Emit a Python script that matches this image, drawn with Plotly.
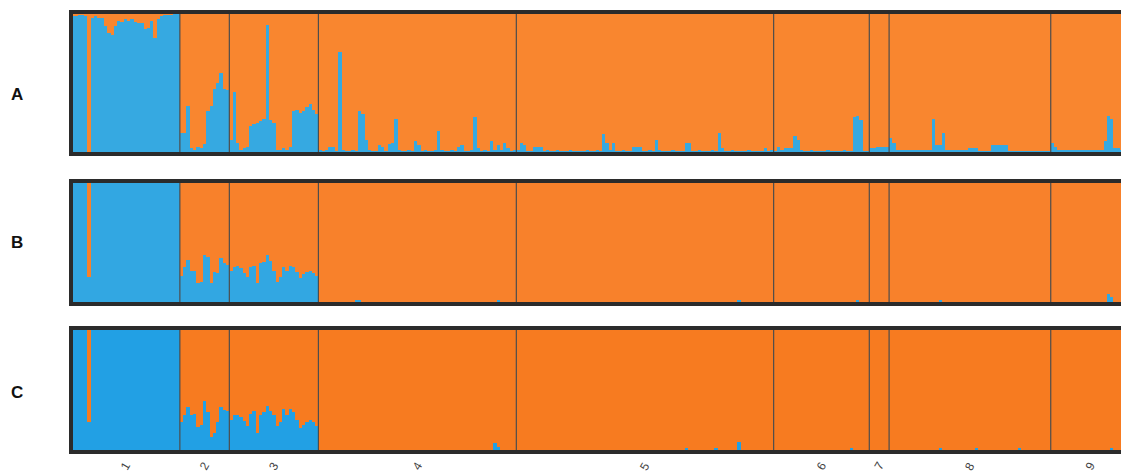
import plotly.graph_objects as go

# ---------------- data ----------------
GROUP_LABELS = ["1", "2", "3", "4", "5", "6", "7", "8", "9"]
GROUP_SIZES = [33, 15, 27, 60, 78, 29, 6, 49, 24]
PANEL_LABELS = ["A", "B", "C"]

# Blue-cluster membership (%) per individual, orange = 100 - blue
A_BLUE = [
    # group 1
    97, 97, 98, 98, 97, 0, 96, 97, 96, 96, 90, 85, 84, 90, 94, 93, 95, 94, 95, 93,
    92, 92, 88, 89, 94, 82, 95, 97, 98, 98, 98, 99, 99,
    # group 2
    15, 15, 34, 4, 3, 5, 4, 7, 30, 34, 46, 50, 57, 46, 45,
    # group 3
    10, 44, 8, 3, 4, 5, 20, 21, 22, 23, 25, 91, 24, 22, 3, 3, 4, 3, 5, 30,
    31, 29, 30, 33, 35, 31, 28,
    # group 4
    3, 2, 3, 5, 5, 2, 72, 3, 2, 2, 3, 2, 30, 28, 10, 3, 2, 2, 6, 5,
    2, 7, 8, 25, 3, 2, 2, 3, 2, 9, 6, 2, 3, 2, 2, 3, 16, 3, 2, 2,
    3, 2, 5, 6, 2, 2, 3, 26, 4, 2, 3, 2, 9, 3, 6, 3, 8, 4, 2, 3,
    # group 5
    3, 8, 6, 2, 2, 5, 5, 5, 2, 3, 2, 2, 3, 2, 2, 2, 3, 2, 2, 2,
    2, 3, 2, 2, 3, 2, 14, 8, 3, 8, 2, 2, 3, 2, 2, 5, 5, 5, 2, 2,
    3, 2, 10, 3, 2, 2, 2, 3, 2, 2, 2, 8, 8, 2, 2, 3, 2, 2, 2, 3,
    2, 15, 4, 2, 2, 3, 2, 2, 2, 2, 3, 2, 2, 2, 2, 4, 2, 3,
    # group 6
    2, 5, 3, 4, 4, 4, 13, 10, 3, 2, 2, 3, 2, 2, 2, 2, 3, 2, 2, 2,
    2, 3, 2, 2, 26, 27, 24, 2, 2,
    # group 7
    4, 4, 5, 5, 5, 5,
    # group 8
    11, 8, 3, 3, 3, 3, 3, 3, 3, 3, 3, 3, 3, 25, 6, 6, 15, 3, 3, 3,
    3, 3, 3, 3, 4, 4, 4, 2, 2, 2, 2, 6, 6, 6, 6, 6, 2, 2, 2, 2,
    2, 2, 2, 2, 2, 2, 2, 2, 2,
    # group 9
    8, 5, 3, 3, 3, 3, 3, 3, 3, 3, 3, 3, 3, 3, 3, 3, 9, 27, 25, 4,
    4, 3, 3, 3,
]

B_BLUE = [
    # group 1
    100, 100, 100, 99, 100, 22, 100, 100, 100, 99, 100, 100, 100, 100, 99, 100, 100, 100, 100, 100,
    100, 100, 100, 98, 100, 100, 100, 100, 99, 100, 100, 100, 100,
    # group 2
    23, 30, 36, 27, 27, 17, 18, 40, 38, 17, 26, 25, 37, 33, 32,
    # group 3
    27, 30, 31, 29, 25, 22, 30, 31, 17, 33, 34, 40, 35, 27, 18, 22, 30, 27, 31, 30,
    26, 21, 24, 26, 27, 25, 23,
    # group 4
    1, 1, 1, 1, 1, 1, 1, 1, 1, 1, 1, 3, 3, 2, 2, 1, 1, 1, 1, 1,
    1, 1, 1, 1, 1, 1, 1, 1, 1, 1, 1, 1, 1, 1, 1, 1, 1, 1, 1, 1,
    1, 1, 2, 2, 1, 1, 1, 1, 1, 1, 1, 1, 1, 1, 3, 1, 1, 1, 1, 1,
    # group 5
    1, 1, 1, 1, 1, 1, 1, 1, 1, 1, 1, 1, 1, 1, 1, 1, 1, 1, 1, 1,
    1, 1, 1, 1, 1, 1, 1, 1, 1, 1, 1, 1, 1, 1, 1, 1, 1, 1, 1, 1,
    1, 1, 1, 2, 1, 1, 1, 1, 1, 1, 1, 2, 1, 1, 1, 1, 1, 1, 1, 1,
    1, 1, 1, 1, 1, 1, 1, 3, 1, 1, 1, 1, 1, 1, 1, 1, 1, 1,
    # group 6
    1, 1, 1, 1, 1, 1, 1, 1, 1, 1, 1, 1, 1, 1, 1, 1, 1, 1, 1, 1,
    1, 1, 1, 1, 1, 3, 1, 1, 1,
    # group 7
    1, 1, 1, 1, 1, 1,
    # group 8
    1, 1, 1, 1, 1, 1, 1, 1, 1, 1, 1, 1, 1, 1, 1, 3, 1, 1, 1, 1,
    1, 1, 1, 1, 1, 1, 1, 2, 1, 1, 1, 1, 1, 1, 1, 1, 1, 1, 1, 1,
    1, 1, 1, 1, 1, 1, 1, 1, 1,
    # group 9
    1, 1, 1, 1, 1, 1, 1, 1, 1, 1, 1, 1, 1, 1, 1, 1, 1, 8, 6, 1,
    1, 1, 1, 1,
]

C_BLUE = [
    # group 1
    100, 100, 100, 99, 100, 24, 100, 100, 100, 99, 100, 100, 100, 100, 99, 100, 100, 100, 100, 100,
    100, 100, 100, 98, 100, 100, 100, 100, 99, 100, 100, 100, 100,
    # group 2
    24, 30, 36, 30, 31, 20, 22, 41, 32, 12, 15, 24, 36, 34, 33,
    # group 3
    26, 30, 30, 28, 25, 21, 31, 33, 15, 30, 32, 37, 33, 30, 21, 24, 35, 30, 35, 32,
    26, 19, 22, 24, 26, 24, 21,
    # group 4
    1, 1, 1, 1, 1, 1, 1, 1, 1, 1, 1, 1, 1, 1, 1, 1, 1, 2, 2, 2,
    2, 2, 2, 1, 1, 1, 1, 1, 1, 1, 1, 1, 1, 1, 1, 1, 1, 1, 1, 1,
    1, 1, 1, 1, 1, 1, 1, 1, 1, 1, 1, 1, 1, 7, 4, 1, 1, 1, 1, 1,
    # group 5
    1, 1, 1, 1, 1, 1, 1, 1, 1, 1, 1, 1, 1, 1, 1, 1, 1, 1, 1, 2,
    1, 1, 1, 1, 1, 1, 1, 1, 1, 1, 1, 1, 1, 1, 1, 1, 1, 1, 1, 1,
    1, 1, 2, 1, 1, 1, 1, 1, 1, 1, 1, 3, 1, 1, 1, 1, 1, 1, 1, 1,
    3, 1, 1, 1, 1, 1, 1, 8, 1, 1, 1, 1, 1, 1, 1, 1, 1, 1,
    # group 6
    1, 1, 1, 1, 1, 1, 1, 1, 1, 1, 1, 1, 1, 1, 1, 1, 1, 1, 1, 1,
    1, 1, 1, 3, 2, 1, 1, 1, 1,
    # group 7
    1, 1, 1, 1, 1, 1,
    # group 8
    1, 1, 1, 1, 1, 1, 1, 1, 1, 1, 1, 1, 1, 1, 1, 3, 1, 1, 1, 1,
    1, 1, 1, 1, 1, 1, 3, 1, 1, 1, 1, 1, 1, 1, 1, 1, 1, 1, 1, 3,
    1, 1, 1, 1, 1, 1, 1, 1, 1,
    # group 9
    1, 1, 1, 1, 1, 1, 2, 1, 1, 1, 1, 1, 1, 1, 1, 1, 1, 1, 3, 1,
    1, 1, 1, 1,
]

PANEL_DATA = [A_BLUE, B_BLUE, C_BLUE]
BLUE_COLORS = ["#36A9E1", "#32A7E2", "#22A0E4"]
ORANGE_COLORS = ["#F9862F", "#F8812B", "#F77B20"]

# ---------------- layout constants ----------------
W, H = 1121, 475
X_RANGE = [0, 318.3]
# panel pixel extents (top, bottom) and letter positions
PANEL_PX = [(12, 154), (181, 304), (328, 452)]
LETTER_Y_PX = [95, 243, 392]

fig = go.Figure()
layout = dict(
    width=W, height=H,
    margin=dict(l=71, r=0, t=0, b=0),
    paper_bgcolor="white", plot_bgcolor="white",
    barmode="stack", bargap=0, showlegend=False,
)

shapes, annotations = [], []
bounds = []
c = 0
for s in GROUP_SIZES[:-1]:
    c += s
    bounds.append(c)
centers = []
c = 0
for s in GROUP_SIZES:
    centers.append(c + s / 2)
    c += s

for k, (blue, (top, bot)) in enumerate(zip(PANEL_DATA, PANEL_PX), start=1):
    n = len(blue)
    xs = [i + 0.5 for i in range(n)]
    orange = [100 - b for b in blue]
    xa = "x" if k == 1 else f"x{k}"
    ya = "y" if k == 1 else f"y{k}"
    fig.add_trace(go.Bar(x=xs, y=blue, width=1.0, marker=dict(color=BLUE_COLORS[k - 1], line=dict(width=0)),
                         xaxis=xa, yaxis=ya, hoverinfo="skip"))
    fig.add_trace(go.Bar(x=xs, y=orange, width=1.0, marker=dict(color=ORANGE_COLORS[k - 1], line=dict(width=0)),
                         xaxis=xa, yaxis=ya, hoverinfo="skip"))
    suffix = "" if k == 1 else str(k)
    layout["xaxis" + suffix] = dict(domain=[0, 1], range=X_RANGE, visible=False, anchor=ya, fixedrange=True)
    layout["yaxis" + suffix] = dict(domain=[1 - bot / H, 1 - top / H], range=[0, 100], visible=False,
                                    anchor=xa, fixedrange=True)
    # group separators
    for b in bounds:
        shapes.append(dict(type="line", xref=xa, yref=f"{ya} domain", x0=b, x1=b, y0=0, y1=1,
                           line=dict(color="#4d4d4d", width=1.2)))
    # frame
    shapes.append(dict(type="rect", xref="paper", yref=f"{ya} domain", x0=0, x1=1.05, y0=0, y1=1,
                       line=dict(color="#2b2b2b", width=4), fillcolor="rgba(0,0,0,0)"))
    # panel letter
    annotations.append(dict(text=f"<b>{PANEL_LABELS[k - 1]}</b>", xref="paper", yref="paper",
                            x=(17 - 71) / 1050, y=1 - LETTER_Y_PX[k - 1] / H, showarrow=False,
                            xanchor="center", yanchor="middle",
                            font=dict(family="Liberation Sans, Arial, sans-serif", size=17, color="#111")))

for lab, cx in zip(GROUP_LABELS, centers):
    annotations.append(dict(text=lab, xref="x3", yref="paper", x=cx, y=(H - 466) / H, showarrow=False,
                            textangle=-60, xanchor="center", yanchor="middle",
                            font=dict(family="Liberation Sans, Arial, sans-serif", size=12, color="#444")))

layout["shapes"] = shapes
layout["annotations"] = annotations
fig.update_layout(**layout)
fig.write_html(
    "out.html",
    config={"displayModeBar": False, "staticPlot": True},
    post_script="document.body.style.margin='0';document.body.style.overflow='hidden';",
)
